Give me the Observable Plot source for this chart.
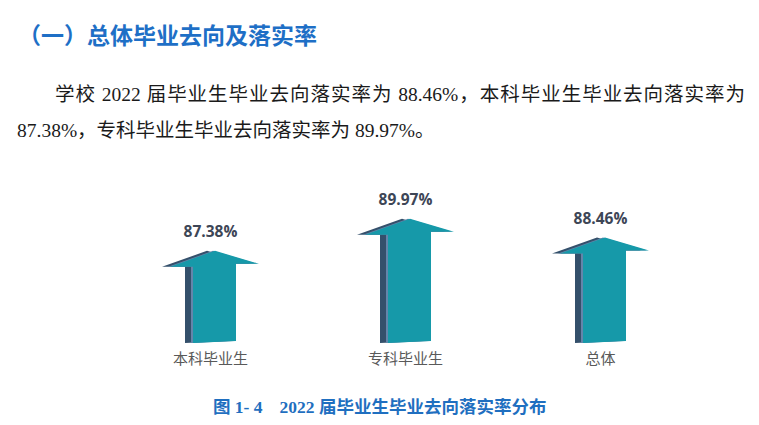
<!DOCTYPE html>
<html>
<head>
<meta charset="utf-8">
<script src="https://cdn.jsdelivr.net/npm/d3@7"></script>
<script src="https://cdn.jsdelivr.net/npm/@observablehq/plot@0.6"></script>
<style>
  html, body { margin: 0; padding: 0; background: #fff; }
  body { width: 759px; height: 425px; position: relative; overflow: hidden; }
  .abs { position: absolute; white-space: nowrap; }
  #heading { left: 18px; top: 22px; font: 700 23px/25px "Noto Sans CJK SC", sans-serif; color: #1e6fc6; }
  .para { font: 400 19.5px/22px "Liberation Serif", "Noto Sans CJK SC", serif; color: #1a1a1a; }
  #p1 { left: 55px; top: 84px; width: 690px; text-align: justify; text-align-last: justify; }
  #p2 { left: 17px; top: 120px; }
  #caption { left: 213px; top: 396px; font: 700 17.5px/22px "Liberation Serif", "Noto Sans CJK SC", serif; color: #1f6fc0; }
  #chart { position: absolute; left: 0; top: 170px; }
</style>
</head>
<body>
<div id="heading" class="abs">（一）总体毕业去向及落实率</div>
<div id="p1" class="abs para">学校 2022 届毕业生毕业去向落实率为 88.46%，本科毕业生毕业去向落实率为</div>
<div id="p2" class="abs para">87.38%，专科毕业生毕业去向落实率为 89.97%。</div>
<div id="chart"></div>
<div id="caption" class="abs">图 1- 4<span style="display:inline-block;width:17px"></span>2022 届毕业生毕业去向落实率分布</div>
<script>
const categories = ["本科毕业生", "专科毕业生", "总体"];
const rates = [87.38, 89.97, 88.46];
const valueLabels = ["87.38%", "89.97%", "88.46%"];
const baseValue = 80;

const data = categories.map((c, i) => ({category: c, rate: rates[i], label: valueLabels[i]}));

const TEAL = "#1699a9";
const DARK = "#34506b";
const EDGE = "#6485aa";

function arrowShape(cx, tip, base, o) {
  const hb = tip + 16;
  return [
    [cx - 17 + o, base + 1],
    [cx - 17 + o, hb],
    [cx - 40 + o, hb],
    [cx + 5 + o, tip],
    [cx + 49 + o, hb - 3],
    [cx + 26 + o, hb - 3],
    [cx + 26 + o, base - 1]
  ];
}

function arrows(index, scales) {
  const g = d3.create("svg:g");
  const line = d3.line();
  for (const d of data) {
    const cx = scales.x(d.category);
    const tip = scales.y(d.rate);
    const base = scales.y(baseValue);
    g.append("path").attr("d", line(arrowShape(cx, tip, base, -8)) + "Z").attr("fill", DARK);
    g.append("path").attr("d", line(arrowShape(cx, tip, base, -2)) + "Z").attr("fill", EDGE);
    g.append("path").attr("d", line(arrowShape(cx, tip, base, 0)) + "Z").attr("fill", TEAL);
  }
  return g.node();
}

const chart = Plot.plot({
  width: 759,
  height: 210,
  marginLeft: 210,
  marginRight: 159,
  marginTop: 20,
  marginBottom: 38,
  x: {type: "point", domain: categories, padding: 0, label: null},
  y: {domain: [baseValue, 92.3], axis: null},
  style: {background: "transparent", overflow: "visible"},
  marks: [
    arrows,
    Plot.axisX({tickSize: 0, tickPadding: 11, fontSize: 15, fill: "#595959", label: null,
      fontFamily: "Noto Sans CJK SC, sans-serif"}),
    Plot.text(data, {x: "category", y: "rate", text: "label", dy: -19, lineAnchor: "middle",
      fontSize: 15.5, fontWeight: 700, fill: "#3d4656", fontFamily: "Open Sans, sans-serif"})
  ]
});
document.getElementById("chart").appendChild(chart);
</script>
</body>
</html>
